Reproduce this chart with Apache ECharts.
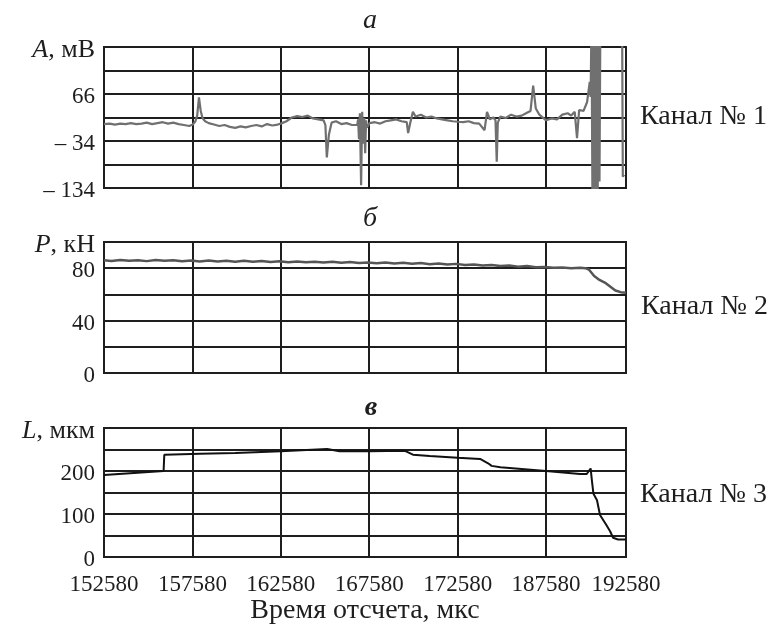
<!DOCTYPE html>
<html>
<head>
<meta charset="utf-8">
<script src="https://cdn.jsdelivr.net/npm/echarts@6/dist/echarts.min.js"></script>
<style>
  html, body { margin: 0; padding: 0; background: #fff; }
  #chart { width: 775px; height: 626px; }
</style>
</head>
<body>
<div id="chart"></div>
<script>
// x axis: time of reading, us (labels as printed on the original figure)
const xMin = 152580
const xMax = 182100
const xStep = 5000
const xTickLabels = ['152580', '157580', '162580', '167580', '172580', '187580', '192580']

// channel 1: acoustic amplitude A, mV
const ch1Time = [152580, 152900, 153200, 153500, 153800, 154100, 154400, 154700, 155000, 155300,
  155600, 155900, 156200, 156500, 156800, 157100, 157400, 157600, 157750, 157850,
  157950, 158050, 158150, 158300, 158500, 158800, 159100, 159400, 159700, 160000,
  160300, 160600, 160900, 161200, 161500, 161800, 162100, 162400, 162580, 162900,
  163200, 163500, 163800, 164100, 164400, 164700, 165000, 165100, 165180, 165300,
  165450, 165700, 166000, 166300, 166600, 166900, 166950, 167000, 167050, 167120,
  167180, 167240, 167300, 167350, 167400, 167450, 167600, 167900, 168200, 168500,
  168800, 169100, 169400, 169700, 169780, 169900, 170050, 170200, 170500, 170800,
  171100, 171400, 171700, 172000, 172300, 172580, 172900, 173200, 173500, 173800,
  174100, 174240, 174400, 174600, 174720, 174790, 174850, 175000, 175300, 175600,
  175900, 176200, 176500, 176700, 176850, 177000, 177200, 177580, 177900, 178200,
  178500, 178800, 179000, 179200, 179330, 179450, 179700, 179900, 180050, 180100,
  180150, 180200, 180250, 180300, 180350, 180400, 180450, 180500, 180550, 180600,
  180650, 181880, 181920, 182000]
const ch1Amp = [2, 3, 1, 3, 2, 4, 2, 3, 5, 2,
  4, 6, 3, 5, 2, 0, -2, 1, 8, 20,
  59, 30, 15, 8, 4, 1, -2, 0, -4, -6,
  -3, -5, -2, 0, -3, 2, -1, 1, 3, 8,
  16, 19, 17, 20, 14, 12, 10, 0, -69, -20,
  5, 8, 2, 4, 0, 0, 12, -30, 25, -128,
  28, -40, 15, -60, 10, -5, 4, 6, 3, 8,
  10, 12, 8, 6, -17, 5, 28, 18, 22, 16,
  18, 14, 12, 10, 8, 7, 6, 8, 4, 3,
  -11, 28, 12, 16, 10, -78, 5, 18, 15, 22,
  18, 20, 26, 30, 84, 35, 22, 10, 14, 12,
  22, 25, 20, 28, -28, 32, 30, 49, 92, 60,
  220, -140, 220, -140, 220, -140, 220, -140, 220, -120,
  220, 220, -110, -105]

// channel 2: load P, kN
const ch2Time = [152580, 153000, 153500, 154000, 154500, 155000, 155500, 156000, 156500, 157000,
  157500, 158000, 158500, 159000, 159500, 160000, 160500, 161000, 161500, 162000,
  162500, 163000, 163500, 164000, 164500, 165000, 165500, 166000, 166500, 167000,
  167500, 168000, 168500, 169000, 169500, 170000, 170500, 171000, 171500, 172000,
  172500, 173000, 173500, 174000, 174500, 175000, 175500, 176000, 176500, 177000,
  177500, 178000, 178500, 179000, 179500, 179800, 180000, 180300, 180600, 180900,
  181200, 181500, 181800, 182100]
const ch2Force = [86, 85.5, 86.3, 85.6, 86.1, 85.4, 86.2, 85.7, 86, 85.3,
  85.9, 85.2, 85.8, 85.1, 85.7, 85, 85.6, 84.9, 85.5, 84.8,
  85.3, 84.6, 85.2, 84.5, 85, 84.3, 84.9, 84.2, 84.7, 84,
  84.4, 83.8, 84.3, 83.6, 84.1, 83.4, 83.9, 83.1, 83.6, 82.8,
  83.3, 82.5, 82.9, 82.1, 82.5, 81.7, 82, 81.2, 81.6, 80.7,
  81, 80.3, 80.6, 80, 80.3, 80, 79, 74, 71, 69,
  66, 63, 61.7, 61.3]

// channel 3: displacement L, um
const ch3Time = [152580, 155950, 155990, 158000, 160000, 162580, 165200, 165900, 167580, 169600,
  170050, 171000, 172580, 173850, 174300, 174500, 175000, 177050, 177580, 179500,
  179880, 180100, 180180, 180260, 180460, 180630, 180980, 181200, 181370, 181650,
  182100]
const ch3Disp = [191, 200, 238, 240, 242, 246, 251, 246, 246, 247,
  238, 235, 231, 228, 218, 212, 209, 202, 200, 193,
  193, 206, 175, 147, 132, 98, 75, 60, 45, 41,
  41]

const zip = (xs, ys) => xs.map((x, i) => [x, ys[i]])

const FONT = 'Liberation Serif'
const ink = '#1e1e1e'
const gridLine = { show: true, lineStyle: { color: ink, width: 2 } }
const nameRich = {
  i: { fontFamily: FONT, fontSize: 26, fontStyle: 'italic', color: ink },
  n: { fontFamily: FONT, fontSize: 26, color: ink }
}

function xAxisFor(gridIndex, showLabels) {
  return {
    type: 'value',
    gridIndex: gridIndex,
    min: xMin,
    max: xMax,
    interval: xStep,
    axisLine: { show: false },
    axisTick: { show: false },
    splitLine: gridLine,
    axisLabel: {
      show: showLabels,
      showMinLabel: true,
      showMaxLabel: true,
      margin: 16,
      fontFamily: FONT,
      fontSize: 23,
      color: ink,
      formatter: (v) => xTickLabels[Math.round((v - xMin) / xStep)]
    },
    name: showLabels ? 'Время отсчета, мкс' : '',
    nameLocation: 'middle',
    nameGap: 38,
    nameTextStyle: { fontFamily: FONT, fontSize: 28, color: ink }
  }
}

function yAxisFor(gridIndex, min, max, step, labelEvery, name, fmt) {
  return {
    type: 'value',
    gridIndex: gridIndex,
    min: min,
    max: max,
    interval: step,
    axisLine: { show: false },
    axisTick: { show: false },
    splitLine: gridLine,
    axisLabel: {
      margin: 9,
      padding: [6, 0, 0, 0],
      showMinLabel: true,
      showMaxLabel: true,
      hideOverlap: false,
      fontFamily: FONT,
      fontSize: 23,
      color: ink,
      rich: nameRich,
      formatter: (v) => {
        if (v === max) return name
        if ((v - min) % labelEvery === 0) return fmt(v)
        return ''
      }
    }
  }
}

const signed = (v) => (v < 0 ? '– ' + Math.abs(v) : String(v))

const chart = echarts.init(document.getElementById('chart'))
chart.setOption({
  animation: false,
  backgroundColor: '#fff',
  grid: [
    { left: 104, top: 47, width: 522, height: 141, show: true, borderColor: ink, borderWidth: 2 },
    { left: 104, top: 242, width: 522, height: 131, show: true, borderColor: ink, borderWidth: 2 },
    { left: 104, top: 428, width: 522, height: 132, show: true, borderColor: ink, borderWidth: 2 }
  ],
  xAxis: [xAxisFor(0, false), xAxisFor(1, false), xAxisFor(2, true)],
  yAxis: [
    yAxisFor(0, -134, 166, 50, 100, '{i|A}{n|, мВ}', signed),
    yAxisFor(1, 0, 100, 20, 40, '{i|P}{n|, кН}', String),
    yAxisFor(2, 0, 300, 50, 100, '{i|L}{n|, мкм}', String)
  ],
  graphic: [
    { type: 'text', x: 370, y: 21, style: { text: 'a', font: 'italic 28px "Liberation Serif"', fill: ink, textAlign: 'center', textVerticalAlign: 'middle' } },
    { type: 'text', x: 370, y: 219, style: { text: 'б', font: 'italic 28px "Liberation Serif"', fill: ink, textAlign: 'center', textVerticalAlign: 'middle' } },
    { type: 'text', x: 371, y: 408, style: { text: 'в', font: 'italic bold 28px "Liberation Serif"', fill: ink, textAlign: 'center', textVerticalAlign: 'middle' } },
    { type: 'text', x: 640, y: 117, style: { text: 'Канал № 1', font: '28px "Liberation Serif"', fill: ink, textVerticalAlign: 'middle' } },
    { type: 'text', x: 641, y: 307, style: { text: 'Канал № 2', font: '28px "Liberation Serif"', fill: ink, textVerticalAlign: 'middle' } },
    { type: 'text', x: 640, y: 495, style: { text: 'Канал № 3', font: '28px "Liberation Serif"', fill: ink, textVerticalAlign: 'middle' } }
  ],
  series: [
    {
      name: 'Канал № 1',
      type: 'line',
      xAxisIndex: 0,
      yAxisIndex: 0,
      data: zip(ch1Time, ch1Amp),
      showSymbol: false,
      clip: true,
      lineStyle: { color: '#707070', width: 2.2 }
    },
    {
      name: 'Канал № 2',
      type: 'line',
      xAxisIndex: 1,
      yAxisIndex: 1,
      data: zip(ch2Time, ch2Force),
      showSymbol: false,
      clip: true,
      lineStyle: { color: '#555555', width: 2.5 }
    },
    {
      name: 'Канал № 3',
      type: 'line',
      xAxisIndex: 2,
      yAxisIndex: 2,
      data: zip(ch3Time, ch3Disp),
      showSymbol: false,
      clip: true,
      lineStyle: { color: '#111111', width: 2 }
    }
  ]
})
</script>
</body>
</html>
